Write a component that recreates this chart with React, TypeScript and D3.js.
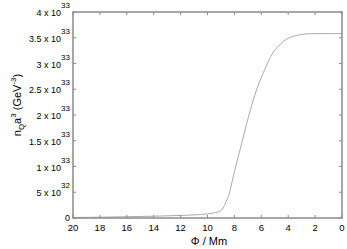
import React from "react";
import * as d3 from "d3";

const phi = [20, 18, 17, 16, 14, 12, 11, 10, 9.5, 9.1, 8.9, 8.75, 8.6, 8.45, 8.0, 7.46, 7.0, 6.6, 6.2, 5.85, 5.5, 5.1, 4.7, 4.36, 4.0, 3.6, 3.1, 2.6, 2.0, 1.0, 0];
const nqa3 = [0.01, 0.015, 0.02, 0.025, 0.035, 0.05, 0.06, 0.08, 0.1, 0.13, 0.17, 0.24, 0.33, 0.42, 0.9, 1.45, 1.92, 2.29, 2.6, 2.82, 3.03, 3.22, 3.34, 3.43, 3.49, 3.53, 3.56, 3.575, 3.58, 3.58, 3.58];
const SCALE = 1e33;

const xTicks = [20, 18, 16, 14, 12, 10, 8, 6, 4, 2, 0];
const yTickValues = [0, 0.5, 1, 1.5, 2, 2.5, 3, 3.5, 4];
const yTickMant = ["0", "5", "1", "1.5", "2", "2.5", "3", "3.5", "4"];
const yTickExp = ["", "32", "33", "33", "33", "33", "33", "33", "33"];

const W = 347, H = 249;
const L = 73, R = 342, T = 12, B = 218;
const axisColor = "#8a8a8a";
const font = "'Liberation Sans', Arial, sans-serif";

export default function App() {
  const x = d3.scaleLinear().domain([20, 0]).range([L, R]);
  const y = d3.scaleLinear().domain([0, 4 * SCALE]).range([B, T]);
  const data = phi.map((p, i) => [p, nqa3[i] * SCALE] as [number, number]);
  const line = d3.line<[number, number]>().x(d => x(d[0])).y(d => y(d[1])).curve(d3.curveMonotoneX);
  const tl = 3;
  return (
    <svg width={W} height={H} style={{ position: "absolute", left: 0, top: 0 }} fontFamily={font}>
      <rect x={0} y={0} width={W} height={H} fill="#fff" />
      <path d={line(data) || ""} fill="none" stroke="#aaaaaa" strokeWidth={1} />
      <rect x={L} y={T} width={R - L} height={B - T} fill="none" stroke={axisColor} strokeWidth={1.5} />
      {xTicks.map(t => (
        <g key={"x" + t}>
          <line x1={x(t)} x2={x(t)} y1={B} y2={B - tl} stroke={axisColor} strokeWidth={1} />
          <line x1={x(t)} x2={x(t)} y1={T} y2={T + tl} stroke={axisColor} strokeWidth={1} />
          <text x={x(t)} y={230.5} fontSize={9.5} textAnchor="middle" fill="#000">{t}</text>
        </g>
      ))}
      {yTickValues.map((v, i) => (
        <g key={"y" + i}>
          <line x1={L} x2={L + tl} y1={y(v * SCALE)} y2={y(v * SCALE)} stroke={axisColor} strokeWidth={1} />
          <line x1={R} x2={R - tl} y1={y(v * SCALE)} y2={y(v * SCALE)} stroke={axisColor} strokeWidth={1} />
          <text x={70} y={y(v * SCALE) + (i === 0 ? 2.5 : 4)} fontSize={9} textAnchor="end" fill="#000">
            {yTickExp[i] ? `${yTickMant[i]} x 10` : yTickMant[i]}
            {yTickExp[i] ? <tspan dy={-8} fontSize={8}>{yTickExp[i]}</tspan> : null}
          </text>
        </g>
      ))}
      <text x={209} y={245} fontSize={11} textAnchor="middle" fill="#000">Φ / Mm</text>
      <text transform={`translate(21,105) rotate(-90)`} fontSize={11} textAnchor="middle" fill="#000">
        n<tspan dy={3} fontSize={8}>Q</tspan><tspan dy={-3}>a</tspan><tspan dy={-5} fontSize={8}>3</tspan><tspan dy={5}> (GeV</tspan><tspan dy={-5} fontSize={8}>-3</tspan><tspan dy={5}>)</tspan>
      </text>
    </svg>
  );
}
